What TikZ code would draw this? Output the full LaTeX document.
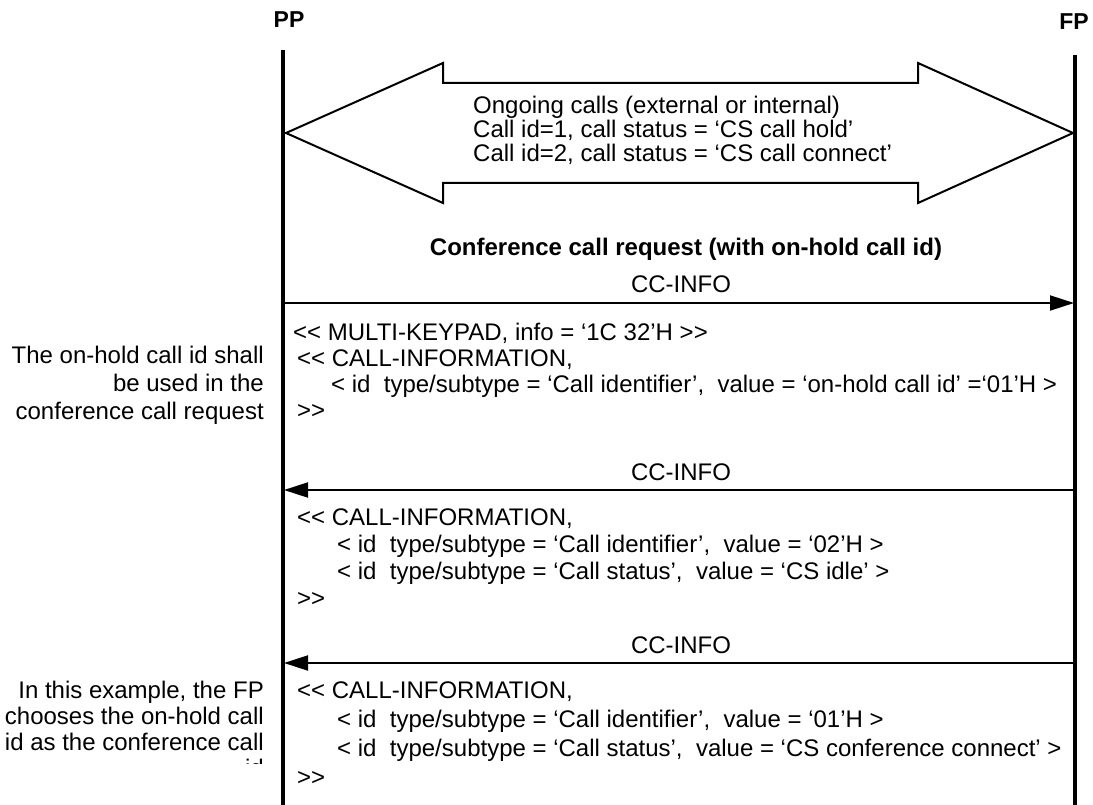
\documentclass[tikz,border=0pt]{standalone}
\usepackage{fontspec}
\setmainfont{Liberation Sans}[Ligatures=TeXOff]
\usetikzlibrary{arrows.meta}
\begin{document}
\begin{tikzpicture}[x=1pt,y=-1pt,
  life/.style={line width=3.5pt},
  msg/.style={line width=2pt,-{Triangle[length=24pt,width=15pt]}},
  bigarrow/.style={line width=2pt,line join=miter},
  txt/.style={anchor=base west,inner sep=0pt,font=\fontsize{24}{28}\selectfont},
  lbl/.style={anchor=base,inner sep=0pt,font=\fontsize{24}{28}\selectfont},
  note/.style={anchor=base east,inner sep=0pt,font=\fontsize{24}{28}\selectfont},
  hdr/.style={anchor=base,inner sep=0pt,font=\fontsize{23}{27}\selectfont\bfseries}]
\useasboundingbox (0,0) rectangle (1093,805);
% lifelines
\node[hdr] (pp) at (289,28) {PP};
\node[hdr] (fp) at (1074,30) {FP};
\coordinate (pptop) at (283,50);
\coordinate (ppbot) at (283,805);
\coordinate (fptop) at (1075,55);
\coordinate (fpbot) at (1075,805);
\draw[life] (pptop) -- (ppbot);
\draw[life] (fptop) -- (fpbot);
% double arrow
\draw[bigarrow] (286,133) -- (443,63) -- (443,83) -- (918,83) -- (918,63) -- (1073,133)
  -- (918,203) -- (918,183) -- (443,183) -- (443,203) -- cycle;
\node[txt] (o1) at (473,114) {Ongoing calls (external or internal)};
\node[txt] (o2) at (473,138) {Call id=1, call status = ‘CS call hold’};
\node[txt] (o3) at (473,162) {Call id=2, call status = ‘CS call connect’};
% title
\node[hdr,font=\fontsize{24}{28}\selectfont\bfseries] (title) at (686,256) {Conference call request (with on-hold call id)};
% message 1
\node[lbl] (m1) at (681,293) {CC-INFO};
\coordinate (m1s) at (284,303);
\coordinate (m1e) at (1074,303);
\draw[msg] (m1s) -- (m1e);
\node[txt] (b1a) at (293,340) {<< MULTI-KEYPAD, info = ‘1C 32’H >>};
\node[txt] (b1b) at (297,366) {<< CALL-INFORMATION,};
\node[txt] (b1c) at (331,392) {< id\ \ type/subtype = ‘Call identifier’,\ \ value = ‘on-hold call id’ =‘01’H >};
\node[txt] (b1d) at (297,418) {>>};
\node[note] (n1a) at (264,363) {The on-hold call id shall};
\node[note] (n1b) at (264,391) {be used in the};
\node[note] (n1c) at (264,419) {conference call request};
% message 2
\node[lbl] (m2) at (681,480) {CC-INFO};
\coordinate (m2s) at (1074,490);
\coordinate (m2e) at (284,490);
\draw[msg] (m2s) -- (m2e);
\node[txt] (b2a) at (297,525) {<< CALL-INFORMATION,};
\node[txt] (b2b) at (337,552) {< id\ \ type/subtype = ‘Call identifier’,\ \ value = ‘02’H >};
\node[txt] (b2c) at (337,579) {< id\ \ type/subtype = ‘Call status’,\ \ value = ‘CS idle’ >};
\node[txt] (b2d) at (297,606) {>>};
% message 3
\node[lbl] (m3) at (681,653) {CC-INFO};
\coordinate (m3s) at (1074,663);
\coordinate (m3e) at (284,663);
\draw[msg] (m3s) -- (m3e);
\node[txt] (b3a) at (297,698) {<< CALL-INFORMATION,};
\node[txt] (b3b) at (337,727) {< id\ \ type/subtype = ‘Call identifier’,\ \ value = ‘01’H >};
\node[txt] (b3c) at (337,756) {< id\ \ type/subtype = ‘Call status’,\ \ value = ‘CS conference connect’ >};
\node[txt] (b3d) at (297,785) {>>};
\begin{scope}
\clip (0,0) rectangle (280,763);
\node[note] (n2a) at (264,698) {In this example, the FP};
\node[note] (n2b) at (264,724) {chooses the on-hold call};
\node[note] (n2c) at (264,750) {id as the conference call};
\node[note] (n2d) at (264,776) {id};
\end{scope}
\end{tikzpicture}
\end{document}
